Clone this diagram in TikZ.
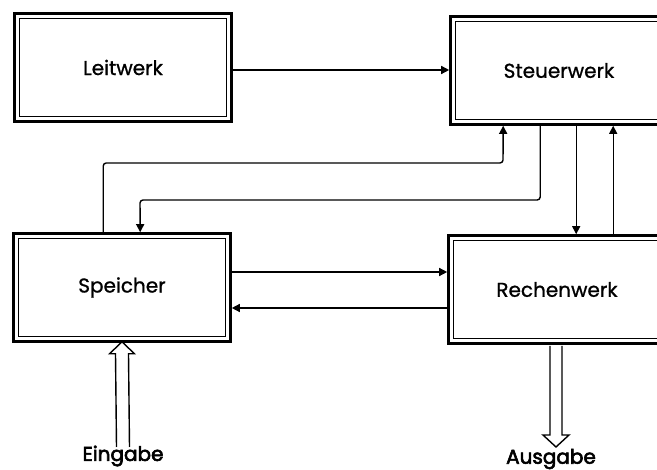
\documentclass[tikz,border=0pt]{standalone}
\usepackage{fontspec}
\setmainfont{Poppins}
\newfontfamily\boxfont[FakeBold=1]{Poppins}
\newfontfamily\labfont[FakeBold=3]{Poppins}
\usetikzlibrary{arrows.meta,calc}
\tikzset{
  box/.style={draw, line width=2.6pt, minimum width=217pt, minimum height=108pt, inner sep=0pt, font=\boxfont\fontsize{20}{22}\selectfont},
  innerbox/.style={draw, line width=1.1pt},
  conn/.style={line width=1.4pt, rounded corners=3pt},
  arr/.style={conn, -{Triangle[length=8pt,width=8pt]}},
  hollow/.style={line width=1.4pt, line join=miter},
  lab/.style={font=\labfont\fontsize{20}{22}\selectfont, inner sep=0pt}
}
\begin{document}
\begin{tikzpicture}[x=1pt,y=-1pt]
\clip (0,0) rectangle (657,470);
\fill[white] (0,0) rectangle (657,470);
\node[box] (lei) at (123,67.5) {Leitwerk};
\node[box] (ste) at (559,70.5) {Steuerwerk};
\node[box] (spe) at (122,287.5) {Speicher};
\node[box] (rec) at (557,289.5) {Rechenwerk};
\foreach \n in {lei,ste,spe,rec}{
  \draw[innerbox] ([shift={(6.5pt,-6pt)}]\n.north west) rectangle ([shift={(-6.5pt,6pt)}]\n.south east);
}
\node[lab] (ein) at (123,456) {Eingabe};
\node[lab] (aus) at (551,459) {Ausgabe};
% Leitwerk -> Steuerwerk
\coordinate (l1) at ([yshift=-2.5pt]lei.east);
\draw[arr] (l1) -- (l1 -| ste.west);
% Speicher <-> Rechenwerk
\coordinate (s1) at ([yshift=15.5pt]spe.east);
\coordinate (s2) at ([yshift=-20.5pt]spe.east);
\draw[arr] (s1) -- (s1 -| rec.west);
\draw[arr] (s2 -| rec.west) -- (s2);
% Speicher -> Steuerwerk
\coordinate (c1a) at ([xshift=91pt]spe.north west);
\coordinate (c1b) at ([xshift=54pt]ste.south west);
\draw[arr] (c1a) |- (503,163) -- (c1b);
% Steuerwerk -> Speicher
\coordinate (c2a) at ([xshift=91pt]ste.south west);
\coordinate (c2b) at ([xshift=128pt]spe.north west);
\draw[arr] (c2a) |- (140,200) -- (c2b);
% Steuerwerk <-> Rechenwerk
\coordinate (d1) at ([xshift=127pt]ste.south west);
\coordinate (d2) at ([xshift=164pt]ste.south west);
\draw[arr] (d1) -- (d1 |- rec.north);
\draw[arr] (d2 |- rec.north) -- (d2);
% Eingabe hollow arrow
\coordinate (et) at ([yshift=1pt]spe.south);
\coordinate (eb) at (123,447);
\draw[hollow] ([xshift=-6.5pt]eb) -- ([xshift=-6.5pt,yshift=-12pt]et) -- ([xshift=-12.5pt,yshift=-12pt]et) -- (et) -- ([xshift=12.5pt,yshift=-12pt]et) -- ([xshift=6.5pt,yshift=-12pt]et) -- ([xshift=6.5pt]eb);
% Ausgabe hollow arrow
\coordinate (at) at (556,447);
\draw[hollow] ([xshift=-6pt,yshift=-1pt]rec.south -| at) -- ([xshift=-6pt,yshift=12pt]at) -- ([xshift=-13pt,yshift=12pt]at) -- (at) -- ([xshift=13pt,yshift=12pt]at) -- ([xshift=6pt,yshift=12pt]at) -- ([xshift=6pt,yshift=-1pt]rec.south -| at);
\end{tikzpicture}
\end{document}
